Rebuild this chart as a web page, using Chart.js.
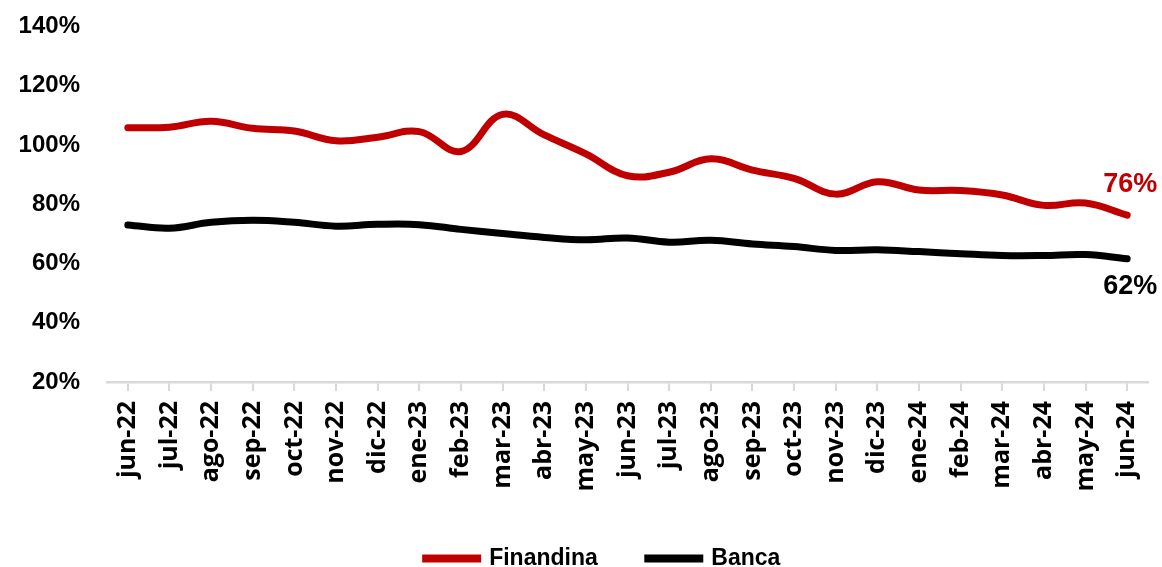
<!DOCTYPE html>
<html>
<head>
<meta charset="utf-8">
<script src="https://cdn.jsdelivr.net/npm/chart.js@4.4.1/dist/chart.umd.min.js"></script>
<style>
  html, body { margin: 0; padding: 0; background: #fff; }
  #wrap { width: 1162px; height: 567px; }
</style>
</head>
<body>
<div id="wrap"><canvas id="myChart"></canvas></div>
<script>
// monthly values (%)
const months = ['jun-22', 'jul-22', 'ago-22', 'sep-22', 'oct-22', 'nov-22', 'dic-22', 'ene-23',
  'feb-23', 'mar-23', 'abr-23', 'may-23', 'jun-23', 'jul-23', 'ago-23', 'sep-23', 'oct-23',
  'nov-23', 'dic-23', 'ene-24', 'feb-24', 'mar-24', 'abr-24', 'may-24', 'jun-24'];
const finandina = [105.8, 106.0, 108.0, 105.6, 104.7, 101.4, 102.6, 104.5, 97.8, 110.3, 103.4, 97.0,
  89.6, 90.8, 95.3, 91.5, 88.7, 83.4, 87.6, 84.8, 84.6, 83.1, 79.6, 80.4, 76.3];
const banca = [73.0, 71.9, 73.9, 74.6, 73.9, 72.6, 73.2, 73.1, 71.5, 70.1, 68.8, 68.0,
  68.6, 67.2, 67.8, 66.6, 65.7, 64.4, 64.6, 64.0, 63.3, 62.7, 62.7, 63.0, 61.6];
const yMin = 20, yMax = 140, yStep = 20;

// label on the last point of each series
const endLabels = {
  id: 'endLabels',
  afterDatasetsDraw(chart) {
    const ctx = chart.ctx;
    ctx.save();
    ctx.font = 'bold 27px "Liberation Sans", Arial, sans-serif';
    ctx.textAlign = 'center';
    ctx.textBaseline = 'middle';
    chart.data.datasets.forEach((ds, i) => {
      const meta = chart.getDatasetMeta(i);
      const pt = meta.data[meta.data.length - 1];
      const val = ds.data[ds.data.length - 1];
      ctx.fillStyle = ds.borderColor;
      const dy = i === 0 ? -31 : 28;
      ctx.fillText(Math.round(val) + '%', pt.x + 3, pt.y + dy);
    });
    ctx.restore();
  }
};

// legend sits a bit right of the canvas centre
const legendShift = {
  id: 'legendShift',
  afterLayout(chart) {
    if (chart.legend) chart.legend.left += 58;
  }
};

var context = document.getElementById('myChart').getContext('2d');
var myChart = new Chart(context, {
  type: 'line',
  data: {
    labels: months,
    datasets: [{
      label: 'Finandina',
      data: finandina,
      borderColor: '#C00000',
      backgroundColor: '#C00000',
      borderWidth: 7,
      pointRadius: 0,
      tension: 0.4,
      borderCapStyle: 'round'
    }, {
      label: 'Banca',
      data: banca,
      borderColor: '#000000',
      backgroundColor: '#000000',
      borderWidth: 7,
      pointRadius: 0,
      tension: 0.4,
      borderCapStyle: 'round'
    }]
  },
  options: {
    responsive: true,
    maintainAspectRatio: false,
    animation: false,
    layout: { padding: { top: 7, right: 14, left: 0, bottom: -13 } },
    plugins: {
      tooltip: { enabled: false },
      legend: {
        position: 'bottom',
        labels: {
          boxWidth: 52,
          boxHeight: 1,
          padding: 50,
          color: '#000',
          font: { family: '"Liberation Sans", Arial, sans-serif', size: 23, weight: 'bold' }
        }
      }
    },
    scales: {
      x: {
        offset: true,
        afterFit: (scale) => {
          scale.height = 115;
          scale.paddingLeft = 0;
          scale.paddingRight = 0;
        },
        grid: {
          display: true,
          drawOnChartArea: false,
          drawTicks: true,
          tickLength: 9,
          color: '#d9d9d9',
          lineWidth: 2
        },
        border: { display: true, color: '#d9d9d9', width: 2.5 },
        ticks: {
          minRotation: 90,
          maxRotation: 90,
          autoSkip: false,
          padding: 10,
          color: '#000',
          font: { family: '"Open Sans", sans-serif', size: 25, weight: 'bold' }
        }
      },
      y: {
        min: yMin,
        max: yMax,
        afterFit: (scale) => { scale.width = 107; },
        grid: { display: false, tickLength: 15 },
        border: { display: false },
        ticks: {
          stepSize: yStep,
          padding: 12,
          color: '#000',
          font: { family: '"Liberation Sans", Arial, sans-serif', size: 24, weight: 'bold' },
          callback: (v) => v + '%'
        }
      }
    }
  },
  plugins: [endLabels, legendShift]
});
</script>
</body>
</html>
